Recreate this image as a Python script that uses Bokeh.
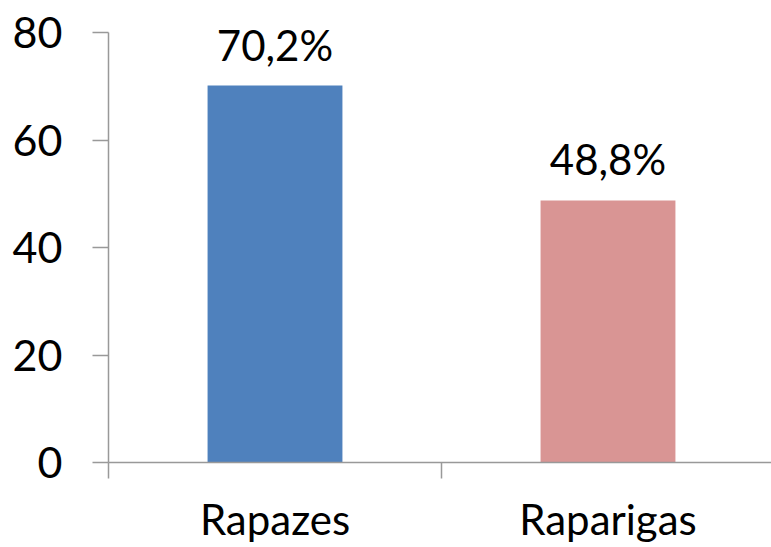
from bokeh.plotting import figure
from bokeh.models import Range1d, FixedTicker, ColumnDataSource
from bokeh.core.properties import value
from bokeh.embed import file_html
from bokeh.resources import INLINE

categories = ["Rapazes", "Raparigas"]
values = [70.2, 48.8]
labels = ["70,2%", "48,8%"]
colors = ["#4F81BD", "#D99594"]
y_ticks = [0, 20, 40, 60, 80]

FONT = "Lato"
xpos = [i + 1 for i in range(len(categories))]
src = ColumnDataSource(dict(x=xpos, top=values, label=labels, color=colors))

p = figure(frame_width=663, frame_height=435, output_backend="svg", toolbar_location=None,
           x_range=Range1d(0.5, 2.491), y_range=Range1d(0, 81),
           min_border_left=108, min_border_right=0, min_border_top=27, min_border_bottom=0)
p.outline_line_color = None
p.xgrid.visible = False
p.ygrid.visible = False

p.vbar(x="x", top="top", bottom=0, width=0.405, fill_color="color", line_color=None, source=src)
p.text(x="x", y="top", text="label", source=src, text_align="center", text_baseline="alphabetic",
       y_offset=-41, text_font=value(FONT), text_font_size="42px", text_color="black")

AXC = "#999999"
ya = p.yaxis[0]
ya.ticker = FixedTicker(ticks=y_ticks, minor_ticks=[])
ya.bounds = (0, 80)
ya.axis_line_color = AXC
ya.axis_line_width = 1.5
ya.major_tick_line_color = AXC
ya.major_tick_line_width = 1.5
ya.major_tick_out = 16
ya.major_tick_in = 0
ya.minor_tick_line_color = None
ya.major_label_standoff = 30
ya.major_label_text_font = FONT
ya.major_label_text_font_size = "43px"
ya.major_label_text_color = "black"

xa = p.xaxis[0]
xa.ticker = FixedTicker(ticks=xpos, minor_ticks=[0.5, 1.5, 2.5])
xa.major_label_overrides = {i + 1: c for i, c in enumerate(categories)}
xa.axis_line_color = AXC
xa.axis_line_width = 1.5
xa.major_tick_line_color = None
xa.major_tick_out = 0
xa.major_tick_in = 0
xa.minor_tick_line_color = AXC
xa.minor_tick_line_width = 1.5
xa.minor_tick_out = 16
xa.minor_tick_in = 0
xa.major_label_standoff = 15
xa.major_label_text_font = FONT
xa.major_label_text_font_size = "42px"
xa.major_label_text_color = "black"

open("out.html", "w").write(file_html(p, INLINE))
